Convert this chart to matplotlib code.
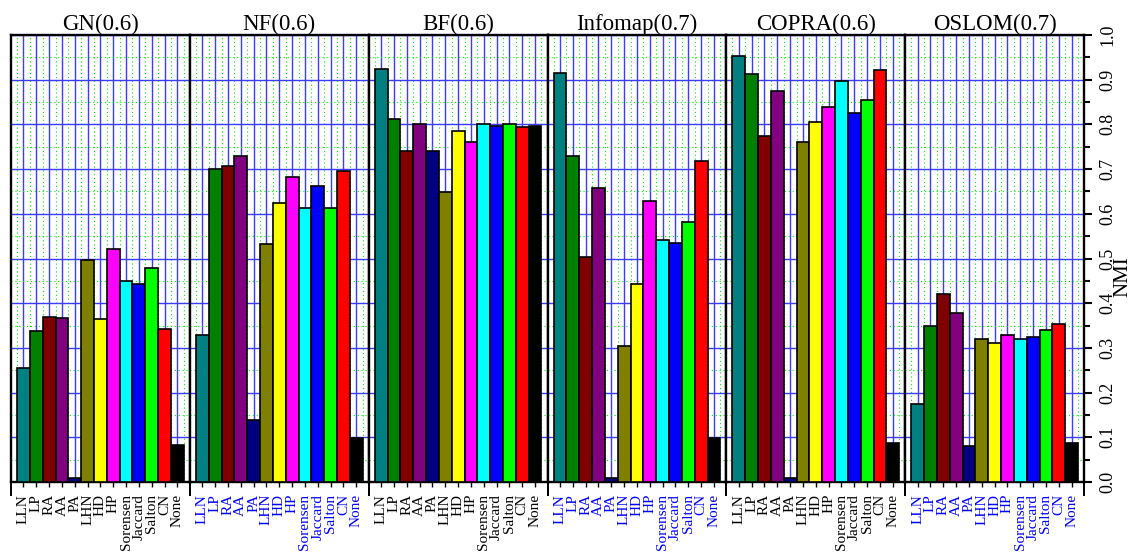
import numpy as np
import matplotlib
matplotlib.use("Agg")
import matplotlib.pyplot as plt
from matplotlib.ticker import MultipleLocator, FormatStrFormatter

plt.rcParams["font.family"] = ["Liberation Serif", "DejaVu Serif"]

# Link-prediction methods (one bar each) and their colours
methods = ["LLN", "LP", "RA", "AA", "PA", "LHN", "HD", "HP",
           "Sorensen", "Jaccard", "Salton", "CN", "None"]
bar_colors = ["#008080", "#008000", "#800000", "#800080", "#000080", "#808000",
              "#ffff00", "#ff00ff", "#00ffff", "#0000ff", "#00ff00", "#ff0000",
              "#000000"]

# Community detection algorithms (one panel each)
panel_titles = ["GN(0.6)", "NF(0.6)", "BF(0.6)", "Infomap(0.7)", "COPRA(0.6)", "OSLOM(0.7)"]

# NMI per method for each algorithm
nmi_gn = [0.255, 0.338, 0.369, 0.366, 0.009, 0.497, 0.364, 0.521, 0.450, 0.443, 0.479, 0.343, 0.082]
nmi_nf = [0.328, 0.700, 0.707, 0.729, 0.139, 0.533, 0.625, 0.682, 0.612, 0.663, 0.613, 0.696, 0.098]
nmi_bf = [0.924, 0.811, 0.741, 0.802, 0.740, 0.649, 0.785, 0.761, 0.800, 0.797, 0.801, 0.795, 0.797]
nmi_infomap = [0.914, 0.730, 0.503, 0.657, 0.010, 0.305, 0.443, 0.628, 0.541, 0.534, 0.581, 0.719, 0.098]
nmi_copra = [0.953, 0.913, 0.773, 0.874, 0.010, 0.760, 0.805, 0.840, 0.898, 0.826, 0.855, 0.922, 0.087]
nmi_oslom = [0.175, 0.348, 0.421, 0.378, 0.081, 0.319, 0.310, 0.329, 0.320, 0.325, 0.339, 0.354, 0.088]

panel_values = [nmi_gn, nmi_nf, nmi_bf, nmi_infomap, nmi_copra, nmi_oslom]
label_colors = ["black", "blue", "black", "blue", "black", "blue"]

fig, axes = plt.subplots(1, 6, sharey=True, figsize=(11.33, 5.52), dpi=100,
                         gridspec_kw=dict(wspace=0))
fig.subplots_adjust(left=0.0097, right=0.9568, top=0.9366, bottom=0.1268)

x = np.arange(len(methods))
gap = 0.47
for ax, title, vals, lc in zip(axes, panel_titles, panel_values, label_colors):
    ax.bar(x, vals, width=1.0, color=bar_colors, edgecolor="black",
           linewidth=1.2, zorder=3)
    ax.set_xlim(-0.5 - gap, len(methods) - 0.5 + gap)
    ax.set_ylim(0, 1.0)

    ax.set_axisbelow(True)
    ax.set_xticks(x)
    ax.set_xticks(np.arange(len(methods) + 1) - 0.5, minor=True)
    ax.set_xticklabels(methods, rotation=90, color=lc, fontsize=11)
    ax.yaxis.set_major_locator(MultipleLocator(0.1))
    ax.yaxis.set_minor_locator(MultipleLocator(0.05))

    ax.grid(which="major", color="#3c3cff", linewidth=1.0, linestyle="-")
    ax.grid(which="minor", color="#00ee00", linewidth=0.8, linestyle=(0, (1, 2.5)))

    ax.tick_params(axis="x", which="major", direction="out", length=3.6,
                   width=1.0, pad=5)
    ax.tick_params(axis="x", which="minor", length=0)
    ax.tick_params(axis="y", which="both", left=False, right=False,
                   labelleft=False, labelright=False)

    for sp in ax.spines.values():
        sp.set_linewidth(1.7)

    # longer ticks marking the panel borders
    for edge in (0.0, 1.0):
        ax.plot([edge, edge], [0, -0.029], transform=ax.transAxes,
                color="black", linewidth=1.4, clip_on=False, zorder=5)

    ax.set_title(title, fontsize=16.5, pad=3)

last = axes[-1]
last.tick_params(axis="y", which="both", right=True, labelright=True,
                 direction="out", width=1.5)
last.tick_params(axis="y", which="major", length=6, pad=5, labelsize=13)
last.tick_params(axis="y", which="minor", length=4.5)
last.yaxis.set_major_formatter(FormatStrFormatter("%.1f"))
for lab in last.get_yticklabels():
    lab.set_rotation(90)
    lab.set_va("center")
last.yaxis.set_label_position("right")
last.set_ylabel("NMI", fontsize=15, rotation=90)
last.yaxis.set_label_coords(1.165, 0.46)

fig.savefig("out.png", dpi=100)
